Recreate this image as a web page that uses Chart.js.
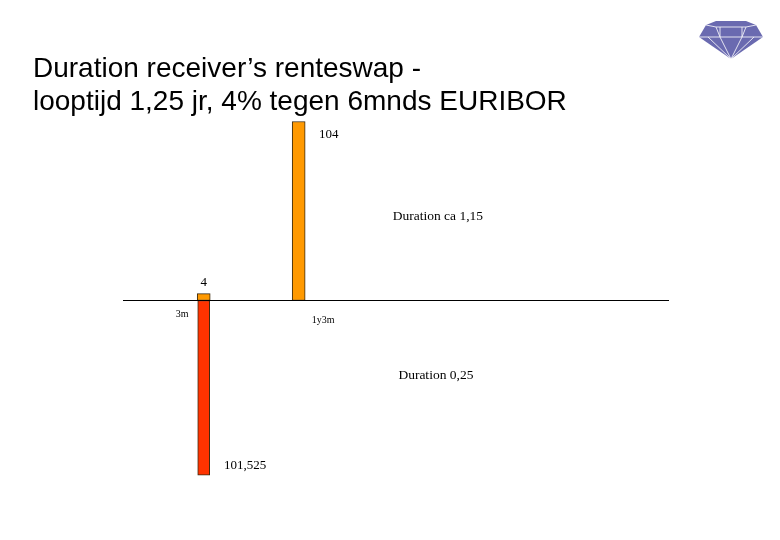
<!DOCTYPE html>
<html>
<head>
<meta charset="utf-8">
<script src="https://cdn.jsdelivr.net/npm/chart.js@4.4.1/dist/chart.umd.min.js"></script>
<style>
  html, body { margin: 0; padding: 0; background: #ffffff; }
  #wrap { position: relative; width: 780px; height: 540px; }
  #c { position: absolute; left: 0; top: 0; }
  #diamond { position: absolute; left: 0; top: 0; pointer-events: none; }
</style>
</head>
<body>
<div id="wrap">
  <canvas id="c" width="780" height="540"></canvas>
  <svg id="diamond" width="780" height="540" viewBox="0 0 780 540">
    <polygon points="699,37 706,25 716,21 746,21 756,25 763,37 731,59" fill="#6a6ab0"/>
    <g stroke="#ffffff" stroke-width="0.9" fill="none" opacity="0.9">
      <polyline points="699,37 763,37"/>
      <polyline points="706,25 716,27 746,27 756,25"/>
      <polyline points="716,27 720,37 731,59 742,37 746,27"/>
      <polyline points="720,27 720,37"/>
      <polyline points="742,27 742,37"/>
      <polyline points="708,37 731,59 754,37"/>
    </g>
  </svg>
</div>
<script>
// ---- data ----
const titleLines = ['Duration receiver\u2019s renteswap -', 'looptijd 1,25 jr, 4% tegen 6mnds EURIBOR'];
const categories = ['3m', '1y3m'];
const maturitiesYears = [0.25, 1.25];
const receivedFlows = [4, 104];
const paidFlows = [-101.525, null];
const receivedLabels = ['4', '104'];
const paidLabels = ['101,525', ''];
const durationNotes = ['Duration ca 1,15', 'Duration 0,25'];

const receivedData = maturitiesYears.map((m, i) => ({ x: m, y: receivedFlows[i] }));
const paidData = maturitiesYears
  .map((m, i) => ({ x: m, y: paidFlows[i] }))
  .filter(p => p.y !== null);

const overlay = {
  id: 'overlay',
  beforeDraw(chart) {
    const ctx = chart.ctx;
    ctx.save();
    ctx.fillStyle = '#ffffff';
    ctx.fillRect(0, 0, chart.width, chart.height);
    ctx.fillStyle = '#000000';
    ctx.font = '28px "Liberation Sans", Arial, sans-serif';
    ctx.textAlign = 'left';
    ctx.textBaseline = 'alphabetic';
    ctx.fillText(titleLines[0], 33, 77);
    ctx.fillText(titleLines[1], 33, 110);
    ctx.restore();
  },
  afterDatasetsDraw(chart, args, opts) {
    const { ctx, chartArea, scales: { x, y } } = chart;
    const zeroPx = Math.floor(y.getPixelForValue(0)) + 0.5;
    ctx.save();
    ctx.strokeStyle = '#000000';
    ctx.lineWidth = 1.2;
    ctx.beginPath();
    ctx.moveTo(chartArea.left, zeroPx);
    ctx.lineTo(chartArea.right, zeroPx);
    ctx.stroke();

    ctx.fillStyle = '#000000';
    ctx.textAlign = 'center';
    ctx.textBaseline = 'middle';

    ctx.font = '13px "Liberation Serif", "Times New Roman", serif';
    const rec = chart.getDatasetMeta(0).data;
    rec.forEach((bar, i) => {
      const o = opts.receivedOffsets[i];
      ctx.fillText(receivedLabels[i], bar.x + o.dx, bar.y + o.dy);
    });
    const paid = chart.getDatasetMeta(1).data;
    paid.forEach((bar, i) => {
      const o = opts.paidOffsets[i];
      ctx.fillText(paidLabels[i], bar.x + o.dx, bar.y + o.dy);
    });

    ctx.font = '10px "Liberation Serif", "Times New Roman", serif';
    maturitiesYears.forEach((m, i) => {
      const o = opts.categoryOffsets[i];
      ctx.fillText(categories[i], x.getPixelForValue(m) + o.dx, zeroPx + o.dy);
    });

    ctx.font = '13.5px "Liberation Serif", "Times New Roman", serif';
    durationNotes.forEach((t, i) => {
      const a = opts.noteAnchors[i];
      ctx.fillText(t, x.getPixelForValue(a.x), y.getPixelForValue(a.y));
    });
    ctx.restore();
  }
};

new Chart(document.getElementById('c'), {
  type: 'bar',
  data: {
    datasets: [
      {
        label: 'Ontvangen',
        data: receivedData,
        backgroundColor: '#ff9900',
        borderColor: '#3a2a10',
        borderWidth: 1,
        borderSkipped: false,
        barThickness: 13,
        grouped: false
      },
      {
        label: 'Betaald',
        data: paidData,
        backgroundColor: '#ff3300',
        borderColor: '#3a2a10',
        borderWidth: 1,
        borderSkipped: false,
        barThickness: 12,
        grouped: false
      }
    ]
  },
  options: {
    responsive: false,
    animation: false,
    devicePixelRatio: 1,
    layout: { padding: { left: 123, right: 111, top: 94, bottom: 33 } },
    scales: {
      x: { type: 'linear', min: -0.6, max: 5.15, offset: false, display: false },
      y: { min: -120, max: 120, display: false }
    },
    plugins: {
      legend: { display: false },
      tooltip: { enabled: false },
      title: { display: false },
      overlay: {
        receivedOffsets: [{ dx: 0, dy: -11 }, { dx: 30, dy: 13 }],
        paidOffsets: [{ dx: 41.5, dy: -10 }],
        categoryOffsets: [{ dx: -21.5, dy: 13.5 }, { dx: 24.5, dy: 20 }],
        noteAnchors: [{ x: 2.716, y: 49.1 }, { x: 2.695, y: -43.3 }]
      }
    }
  },
  plugins: [overlay]
});
</script>
</body>
</html>
